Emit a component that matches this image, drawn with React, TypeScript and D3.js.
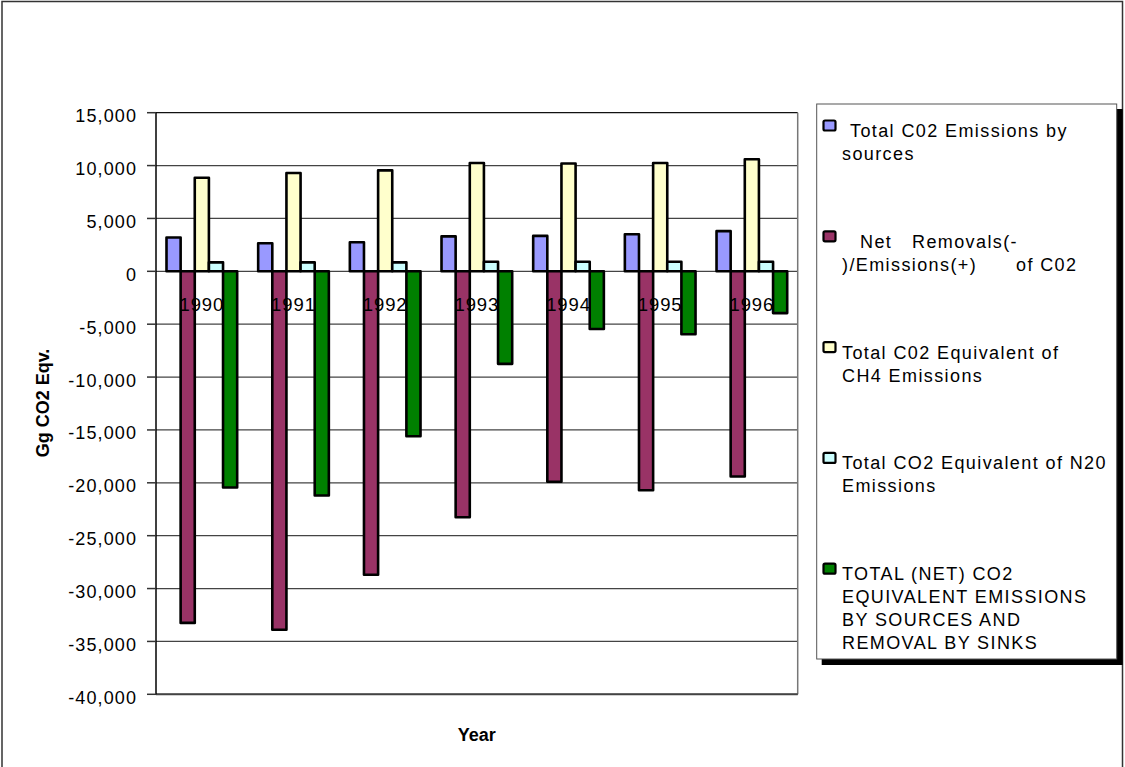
import React from 'react';
import * as d3 from 'd3';

// values (Gg CO2 eqv.)
const years = ['1990', '1991', '1992', '1993', '1994', '1995', '1996'];
const co2Sources = [3200, 2650, 2750, 3300, 3350, 3500, 3800];
const netRemovals = [-33250, -33900, -28700, -23250, -19900, -20700, -19400];
const ch4Equiv = [8850, 9300, 9550, 10250, 10200, 10250, 10600];
const n2oEquiv = [850, 850, 850, 900, 900, 900, 900];
const netTotal = [-20450, -21200, -15600, -8750, -5450, -5950, -3950];

const seriesNames = ['co2', 'net', 'ch4', 'n2o', 'total'];
const seriesColors = ['#9999FF', '#993366', '#FFFFCC', '#CCFFFF', '#008000'];
const seriesValues = [co2Sources, netRemovals, ch4Equiv, n2oEquiv, netTotal];

const yTicks = [15000, 10000, 5000, 0, -5000, -10000, -15000, -20000, -25000, -30000, -35000, -40000];

// legend text, one array of lines per entry; each line is a list of [dx, text] segments
const legendLines: [number, string][][][] = [
  [[[8, 'Total C02 Emissions by']], [[0, 'sources']]],
  [[[18, 'Net'], [70, 'Removals(-']], [[0, ')/Emissions(+)'], [174, 'of C02']]],
  [[[0, 'Total C02 Equivalent of']], [[0, 'CH4 Emissions']]],
  [[[0, 'Total CO2 Equivalent of N20']], [[0, 'Emissions']]],
  [[[0, 'TOTAL (NET) CO2']], [[0, 'EQUIVALENT EMISSIONS']], [[0, 'BY SOURCES AND']], [[0, 'REMOVAL BY SINKS']]],
];

const W = 1125;
const H = 767;
const plot = { left: 156, right: 797.7, top: 112.7, bottom: 694.3 };
const font = 'Arial, "Liberation Sans", sans-serif';

const locale = d3.formatLocale({ decimal: '.', thousands: ',', grouping: [3], currency: ['', ''], minus: '-' });
const fmt = locale.format(',');

export default function App() {
  const x0 = d3.scaleBand<string>()
    .domain(years)
    .range([plot.left, plot.right])
    .paddingInner(0.229)
    .paddingOuter(0.1145);

  const x1 = d3.scaleBand<string>()
    .domain(seriesNames)
    .range([0, x0.bandwidth()]);

  const y = d3.scaleLinear()
    .domain([-40000, 15000])
    .range([plot.bottom, plot.top]);

  const legend = { x: 816.7, y: 104, w: 300, h: 555 };
  const entryTop = 137;
  const entryStep = 110.8;

  return (
    <svg width={W} height={H} style={{ position: 'absolute', left: 0, top: 0, background: '#fff' }}
      fontFamily={font}>
      <rect x={2} y={1.5} width={1120.5} height={H + 10} fill="#fff" stroke="#333" strokeWidth={1.5} />

      {/* gridlines */}
      {yTicks.map((t) => (
        <line key={'g' + t} x1={plot.left} x2={plot.right} y1={y(t)} y2={y(t)}
          stroke={t === 15000 ? '#111' : '#444'} strokeWidth={1.3} />
      ))}
      <line x1={plot.right} x2={plot.right} y1={plot.top} y2={plot.bottom} stroke="#777" strokeWidth={1.5} />
      <line x1={plot.left} x2={plot.right} y1={plot.bottom} y2={plot.bottom} stroke="#444" strokeWidth={2} />

      {/* bars */}
      {years.map((yr, i) => (
        <g key={yr} transform={`translate(${x0(yr)},0)`}>
          {seriesNames.map((s, j) => {
            const v = seriesValues[j][i];
            const top = y(Math.max(0, v));
            const h = Math.abs(y(v) - y(0));
            return (
              <rect key={s} x={x1(s)} y={top} width={x1.bandwidth()} height={h}
                fill={seriesColors[j]} stroke="#000" strokeWidth={2.6} strokeLinejoin="round" />
            );
          })}
        </g>
      ))}

      {/* y axis */}
      <line x1={plot.left} x2={plot.left} y1={plot.top} y2={plot.bottom} stroke="#000" strokeWidth={1.5} />
      {yTicks.map((t) => (
        <g key={'t' + t}>
          <line x1={plot.left - 9} x2={plot.left} y1={y(t)} y2={y(t)} stroke="#333" strokeWidth={1.5} />
          <text x={plot.left - 19} y={y(t) + 9.5} textAnchor="end" fontSize={18} letterSpacing={1.1} fill="#000">
            {fmt(t)}
          </text>
        </g>
      ))}

      {/* category labels next to zero line */}
      {years.map((yr) => (
        <text key={'l' + yr} x={(x0(yr) as number) + x0.bandwidth() / 2} y={y(0) + 40}
          textAnchor="middle" fontSize={18.5} letterSpacing={0.9} fill="#000">
          {yr}
        </text>
      ))}

      {/* axis titles */}
      <text x={476.8} y={741} textAnchor="middle" fontSize={18} fontWeight="bold" fill="#000">Year</text>
      <text transform="translate(49,403) rotate(-90)" textAnchor="middle" fontSize={18} fontWeight="bold" fill="#000">
        Gg CO2 Eqv.
      </text>

      {/* legend */}
      <rect x={legend.x + 5} y={legend.y + 5} width={legend.w + 1} height={legend.h + 1} fill="#000" />
      <rect x={legend.x} y={legend.y} width={legend.w} height={legend.h} fill="#fff" stroke="#555" strokeWidth={1} />
      {legendLines.map((lines, j) => {
        const base = entryTop + j * entryStep;
        return (
          <g key={'e' + j}>
            <rect x={823.5} y={base - 16.5} width={12} height={10} rx={1.5}
              fill={seriesColors[j]} stroke="#000" strokeWidth={2.2} />
            {lines.map((segs, k) => segs.map(([dx, txt], m) => (
              <text key={`${k}-${m}`} x={842 + dx} y={base + k * 23} fontSize={18} letterSpacing={1.4} fill="#000">
                {txt}
              </text>
            )))}
          </g>
        );
      })}
    </svg>
  );
}
